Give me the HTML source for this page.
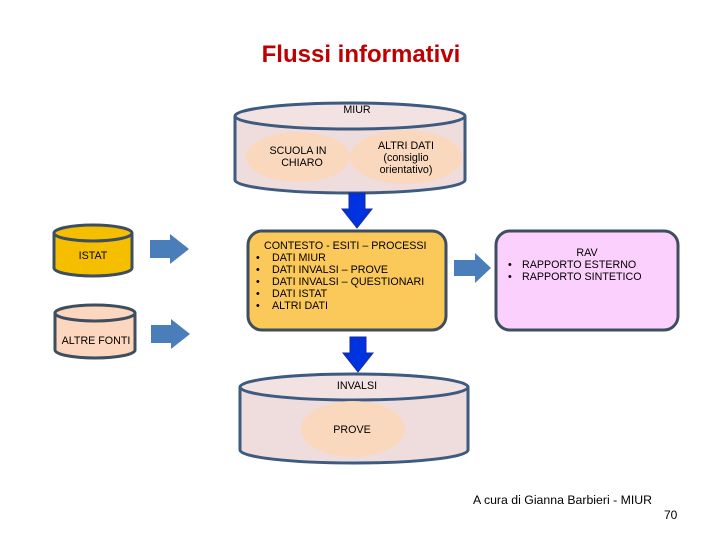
<!DOCTYPE html>
<html><head><meta charset="utf-8"><style>
html,body{margin:0;padding:0;background:#fff;}
svg{display:block;font-family:"Liberation Sans","DejaVu Sans",sans-serif;}
</style></head><body>
<svg width="720" height="540" viewBox="0 0 720 540" xmlns="http://www.w3.org/2000/svg">
<text x="361" y="62" text-anchor="middle" font-size="24" font-weight="bold" fill="#c00000">Flussi informativi</text>

<!-- MIUR cylinder -->
<path d="M235,116 L235,180 A115,13 0 0 0 465,180 L465,116" fill="#efdcdc" stroke="#3d5a80" stroke-width="3"/>
<ellipse cx="350" cy="116" rx="115" ry="13" fill="#f2e2e2" stroke="#3d5a80" stroke-width="3"/>
<text x="357" y="113" text-anchor="middle" font-size="10.7" fill="#000">MIUR</text>
<ellipse cx="298" cy="157" rx="52" ry="25" fill="#f9d8bd"/>
<ellipse cx="406" cy="157" rx="56" ry="27" fill="#f9d8bd"/>
<g font-size="10.7">
<text x="298" y="154" text-anchor="middle">SCUOLA IN</text>
<text x="302" y="166" text-anchor="middle">CHIARO</text>
<text x="406" y="149" text-anchor="middle">ALTRI DATI</text>
<text x="406" y="161" text-anchor="middle">(consiglio</text>
<text x="406" y="173" text-anchor="middle">orientativo)</text>
</g>

<!-- down arrow 1 -->
<polygon points="349,193 365,193 365,209 372,209 357,228 342,209 349,209" fill="#0033e0" stroke="#1a2a9a" stroke-width="1"/>

<!-- orange box -->
<rect x="248" y="231" width="198" height="99" rx="14" fill="#fbc85a" stroke="#3d4f5f" stroke-width="3"/>
<g font-size="10.7">
<text x="264" y="249">CONTESTO -  ESITI – PROCESSI</text>
<text x="256" y="261">•</text><text x="272" y="261">DATI MIUR</text>
<text x="256" y="273">•</text><text x="272" y="273">DATI INVALSI – PROVE</text>
<text x="256" y="285">•</text><text x="272" y="285">DATI INVALSI – QUESTIONARI</text>
<text x="256" y="297">•</text><text x="272" y="297">DATI ISTAT</text>
<text x="256" y="309">•</text><text x="272" y="309">ALTRI DATI</text>
</g>

<!-- ISTAT -->
<path d="M54,233 L54,268 A39,8 0 0 0 132,268 L132,233" fill="#f5bf00" stroke="#3d4f5f" stroke-width="3"/>
<ellipse cx="93" cy="233" rx="39" ry="8" fill="#f5bf00" stroke="#3d4f5f" stroke-width="3"/>
<text x="93" y="259" text-anchor="middle" font-size="10.7">ISTAT</text>

<!-- ALTRE FONTI -->
<path d="M55,313 L55,350 A40,8 0 0 0 135,350 L135,313" fill="#fcd6bf" stroke="#3d4f5f" stroke-width="3"/>
<ellipse cx="95" cy="313" rx="40" ry="8" fill="#fcd6bf" stroke="#3d4f5f" stroke-width="3"/>
<text x="96" y="344" text-anchor="middle" font-size="10.7">ALTRE FONTI</text>

<!-- right arrows -->
<polygon points="150,240 170,240 170,234 189,249 170,264 170,258 150,258" fill="#4a7ebb"/>
<polygon points="151,325 171,325 171,319 190,334 171,349 171,343 151,343" fill="#4a7ebb"/>
<polygon points="454,260 475,260 475,253 491,268 475,283 475,276 454,276" fill="#4a7ebb"/>

<!-- RAV -->
<rect x="496" y="231" width="182" height="99" rx="14" fill="#fcd0fc" stroke="#3d4f5f" stroke-width="3"/>
<g font-size="10.7">
<text x="587" y="256" text-anchor="middle">RAV</text>
<text x="508" y="268">•</text><text x="522" y="268">RAPPORTO ESTERNO</text>
<text x="508" y="280">•</text><text x="522" y="280">RAPPORTO SINTETICO</text>
</g>

<!-- down arrow 2 -->
<polygon points="350,337 366,337 366,353 373,353 358,372 343,353 350,353" fill="#0033e0" stroke="#1a2a9a" stroke-width="1"/>

<!-- INVALSI -->
<path d="M240,387 L240,450 A114,13 0 0 0 468,450 L468,387" fill="#efdcdc" stroke="#3d5a80" stroke-width="3"/>
<ellipse cx="354" cy="387" rx="114" ry="13" fill="#f2e2e2" stroke="#3d5a80" stroke-width="3"/>
<text x="357" y="389" text-anchor="middle" font-size="10.7">INVALSI</text>
<ellipse cx="353" cy="429" rx="52" ry="28" fill="#f9d8bd"/>
<text x="352" y="433" text-anchor="middle" font-size="10.7">PROVE</text>

<text x="473" y="504" font-size="12.3">A cura di Gianna Barbieri - MIUR</text>
<text x="664" y="519" font-size="12">70</text>
</svg>
</body></html>
